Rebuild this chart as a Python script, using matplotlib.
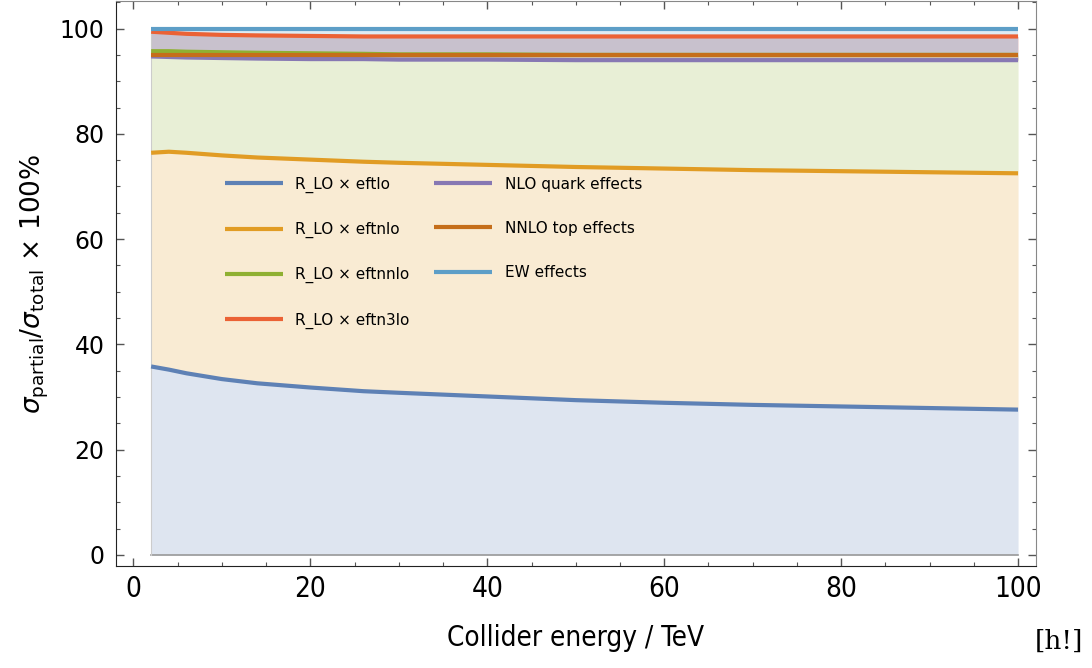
import numpy as np
import matplotlib.pyplot as plt
from matplotlib.ticker import MultipleLocator

# collider energy / TeV
energy = [2, 4, 6, 10, 14, 20, 26, 30, 40, 50, 60, 70, 80, 90, 100]

# cumulative percentages, one list per curve (order of summation)
eftlo    = [35.8, 35.2, 34.5, 33.4, 32.6, 31.8, 31.1, 30.8, 30.1, 29.4, 28.9, 28.5, 28.2, 27.9, 27.6]
eftnlo   = [76.4, 76.6, 76.4, 75.9, 75.5, 75.1, 74.7, 74.5, 74.1, 73.7, 73.4, 73.1, 72.9, 72.7, 72.5]
eftnnlo  = [95.7, 95.7, 95.6, 95.5, 95.4, 95.3, 95.2, 95.1, 95.1, 95.0, 95.0, 95.0, 95.0, 95.0, 95.0]
eftn3lo  = [99.4, 99.2, 99.0, 98.8, 98.7, 98.6, 98.5, 98.5, 98.5, 98.5, 98.5, 98.5, 98.5, 98.5, 98.5]
nlo_q    = [94.7, 94.6, 94.5, 94.4, 94.3, 94.2, 94.2, 94.1, 94.1, 94.0, 94.0, 94.0, 94.0, 94.0, 94.0]
nnlo_top = [95.0, 95.0, 95.0, 95.0, 95.0, 95.0, 95.0, 95.0, 95.0, 95.0, 95.0, 95.0, 95.0, 95.0, 95.0]
ew       = [100.0] * 15

labels = ["R_LO × eftlo", "R_LO × eftnlo", "R_LO × eftnnlo", "R_LO × eftn3lo",
          "NLO quark effects", "NNLO top effects", "EW effects"]
colors = ["#5E81B5", "#E19C24", "#8FB032", "#EB6235", "#8778B3", "#C56E1A", "#5D9EC7"]
series = [eftlo, eftnlo, eftnnlo, eftn3lo, nlo_q, nnlo_top, ew]

plt.rcParams["mathtext.fontset"] = "dejavusans"

fig = plt.figure(figsize=(10.92, 6.68), dpi=100)
ax = fig.add_axes([0.106, 0.152, 0.8425, 0.847])

x = np.array(energy)
prev = np.zeros(len(x))
for s, c in zip(series, colors):
    s = np.array(s)
    ax.fill_between(x, prev, s, color=c, alpha=0.2, lw=0)
    prev = s

ax.plot(x, np.zeros(len(x)), color="#999999", lw=1.2)
ax.plot([x[0], x[0]], [0, eftn3lo[0]], color="#cccccc", lw=0.8)

handles = []
for s, c, l in zip(series, colors, labels):
    h, = ax.plot(x, s, color=c, lw=3.0, label=l, solid_capstyle="butt")
    handles.append(h)

leg = ax.legend(handles=handles, ncol=2, loc="upper left", bbox_to_anchor=(0.104, 0.713),
                frameon=False, fontsize=11, handlelength=3.8, labelspacing=1.9,
                columnspacing=1.6, handletextpad=0.8)

ax.set_xlim(-2.0, 102.0)
ax.set_ylim(-2.2, 105.3)
ax.xaxis.set_major_locator(MultipleLocator(20))
ax.xaxis.set_minor_locator(MultipleLocator(5))
ax.yaxis.set_major_locator(MultipleLocator(20))
ax.yaxis.set_minor_locator(MultipleLocator(5))
ax.tick_params(which="both", direction="in", top=True, right=True, color="#555555")
ax.tick_params(which="major", length=6, width=1)
ax.tick_params(which="minor", length=3, width=0.8)
ax.tick_params(axis="y", labelsize=17, pad=8)
ax.tick_params(axis="x", labelsize=20, pad=6)
for t in ax.get_xticklabels():
    t.set_stretch("condensed")

for side in ["top", "right"]:
    ax.spines[side].set_color("#888888")
for side in ["left", "bottom"]:
    ax.spines[side].set_color("#222222")

ax.set_xlabel("Collider energy / TeV", fontsize=20, labelpad=15, stretch="condensed")
ax.set_ylabel(r"$\sigma_{\mathrm{partial}}/\sigma_{\mathrm{total}}$ × 100%", fontsize=19, labelpad=6)

fig.text(0.992, 0.022, "[h!]", fontsize=19, family="DejaVu Serif", ha="right", va="bottom")

fig.savefig("out.png", dpi=100)
